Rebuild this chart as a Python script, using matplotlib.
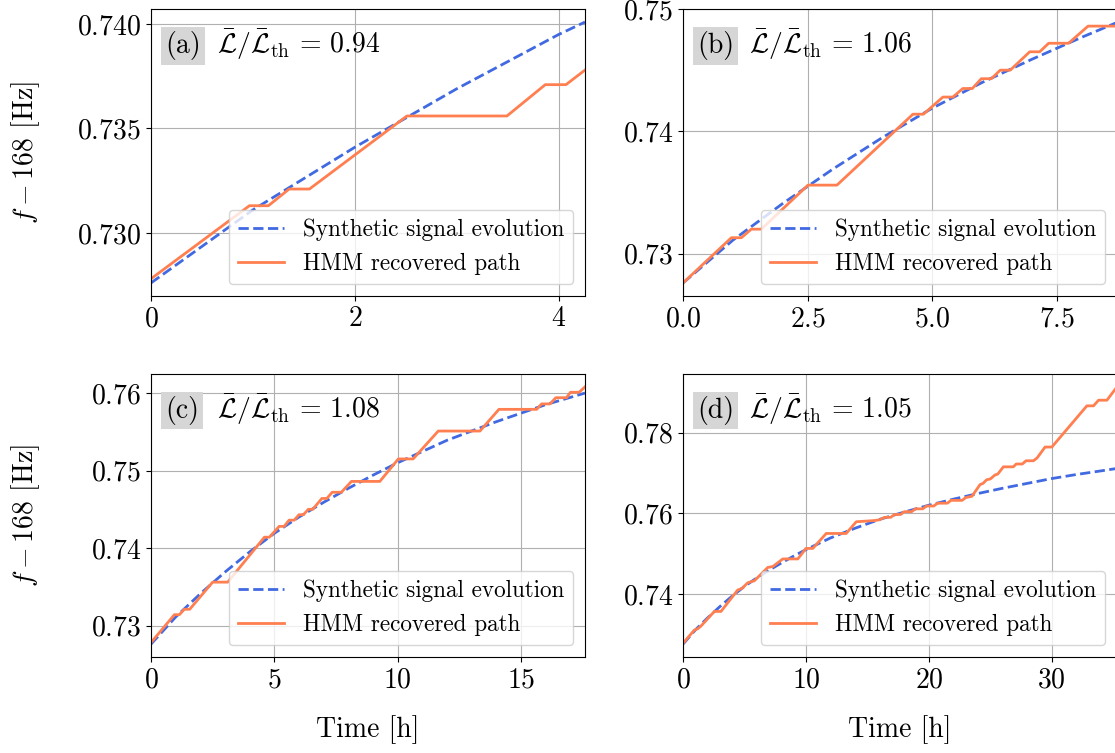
import numpy as np
import matplotlib
matplotlib.use('Agg')
import matplotlib.pyplot as plt

plt.rcParams['font.family'] = 'serif'
plt.rcParams['font.serif'] = ['cmr10']
plt.rcParams['mathtext.fontset'] = 'cm'
plt.rcParams['axes.unicode_minus'] = False
plt.rcParams['axes.formatter.use_mathtext'] = True
plt.rcParams['font.size'] = 20

# synthetic signal evolution, f - 168 Hz vs time [h]
t_sig_a = [0, 1, 2, 3, 4, 4.26]
f_sig_a = [0.7276, 0.7311, 0.7341, 0.7369, 0.7395, 0.7401]
t_sig_b = [0, 1, 2, 3, 4, 5, 6, 7, 8, 8.7]
f_sig_b = [0.7276, 0.7311, 0.7341, 0.7369, 0.7395, 0.7419, 0.7440, 0.7459, 0.7477, 0.7489]
t_sig_c = [0, 1, 2, 3, 4, 5, 6, 7, 8, 9, 10, 12, 14, 16, 17.6]
f_sig_c = [0.7276, 0.7311, 0.7341, 0.7369, 0.7395, 0.7419, 0.7440, 0.7459, 0.7477,
           0.7494, 0.7510, 0.7539, 0.7563, 0.7585, 0.7600]
t_sig_d = [0, 1, 2, 3, 4, 5, 6, 7, 8, 9, 10, 12, 14, 16, 18, 20, 22, 24, 26, 28, 30,
           32, 34, 35.3]
f_sig_d = [0.7276, 0.7311, 0.7341, 0.7369, 0.7395, 0.7419, 0.7440, 0.7459, 0.7477,
           0.7494, 0.7510, 0.7539, 0.7563, 0.7585, 0.7603, 0.7620, 0.7635, 0.7649,
           0.7662, 0.7674, 0.7686, 0.7696, 0.7705, 0.7711]

# HMM recovered paths
t_hmm_a = [0, 0.966, 1.152, 1.356, 1.555, 2.512, 3.494, 3.870, 4.073, 4.26]
f_hmm_a = [0.7278, 0.7313, 0.7313, 0.7321, 0.7321, 0.7356, 0.7356, 0.7371, 0.7371, 0.7378]
t_hmm_b = [0, 0.97, 1.17, 1.37, 1.57, 2.505, 3.086, 4.61, 4.82, 5.21, 5.41, 5.61, 5.80,
           5.98, 6.18, 6.36, 6.56, 6.95, 7.15, 7.33, 7.73, 8.12, 8.70]
f_hmm_b = [0.7276, 0.7313, 0.7313, 0.7320, 0.7320, 0.7356, 0.7356, 0.7414, 0.7414,
           0.7428, 0.7428, 0.7435, 0.7435, 0.7443, 0.7443, 0.7450, 0.7450, 0.7465,
           0.7465, 0.7472, 0.7472, 0.7486, 0.7486]
t_hmm_c = [0, 0.95, 1.15, 1.35, 1.57, 2.50, 3.11, 4.60, 4.80, 5.20, 5.40, 5.60, 5.81,
           6.00, 6.18, 6.38, 6.56, 6.93, 7.13, 7.35, 7.72, 8.13, 9.28, 10.03, 10.63,
           11.65, 13.34, 14.11, 15.64, 15.84, 16.18, 16.42, 16.85, 17.01, 17.36, 17.60]
f_hmm_c = [0.7278, 0.7314, 0.7314, 0.7321, 0.7321, 0.7356, 0.7356, 0.7414, 0.7414,
           0.7428, 0.7428, 0.7436, 0.7436, 0.7443, 0.7443, 0.7450, 0.7450, 0.7464,
           0.7464, 0.7472, 0.7472, 0.7486, 0.7486, 0.7515, 0.7515, 0.7551, 0.7551,
           0.7579, 0.7579, 0.7586, 0.7586, 0.7594, 0.7594, 0.7601, 0.7601, 0.7608]
t_hmm_d = [0, 0.93, 1.2, 1.47, 2.55, 3.09, 4.45, 4.8, 5.27, 5.81, 6.9, 7.3, 8.12, 9.34,
           10.0, 10.56, 11.65, 13.27, 14.09, 15.58, 16.0, 16.4, 16.9, 17.2, 17.7, 18.0,
           18.6, 18.9, 19.5, 19.8, 20.4, 20.7, 21.5, 21.8, 22.7, 23.0, 23.5, 24.16, 24.4,
           24.7, 25.0, 25.38, 25.6, 26.06, 26.87, 27.1, 27.6, 27.9, 28.5, 28.8, 29.45,
           30.0, 30.67, 32.85, 33.39, 33.8, 34.48, 35.3]
f_hmm_d = [0.7278, 0.7311, 0.7314, 0.7321, 0.7357, 0.7357, 0.7410, 0.7414, 0.7428,
           0.7433, 0.7466, 0.7468, 0.7487, 0.7487, 0.7513, 0.7513, 0.7550, 0.7550,
           0.7579, 0.7582, 0.7584, 0.7590, 0.7590, 0.7597, 0.7597, 0.7604, 0.7604,
           0.7611, 0.7611, 0.7618, 0.7618, 0.7625, 0.7625, 0.7632, 0.7632, 0.7639,
           0.7642, 0.7671, 0.7674, 0.7683, 0.7685, 0.7695, 0.7697, 0.7715, 0.7715,
           0.7722, 0.7722, 0.7730, 0.7730, 0.7737, 0.7764, 0.7764, 0.7788, 0.7866,
           0.7866, 0.7880, 0.7880, 0.7913]

labels = ['(a)', '(b)', '(c)', '(d)']
ratios = ['0.94', '1.06', '1.08', '1.05']
xticks = [[0, 2, 4], [0.0, 2.5, 5.0, 7.5], [0, 5, 10, 15], [0, 10, 20, 30]]
yticks = [[0.730, 0.735, 0.740], [0.73, 0.74, 0.75],
          [0.73, 0.74, 0.75, 0.76], [0.74, 0.76, 0.78]]

W, H = 1115, 753
fig = plt.figure(figsize=(W / 100, H / 100), dpi=100)
boxes = [(151, 9, 434, 287), (683, 9, 434, 287),
         (151, 374, 434, 283), (683, 374, 434, 283)]
axes = [fig.add_axes([x / W, 1 - (y + h) / H, w / W, h / H]) for x, y, w, h in boxes]

sig = [(t_sig_a, f_sig_a), (t_sig_b, f_sig_b), (t_sig_c, f_sig_c), (t_sig_d, f_sig_d)]
hmm = [(t_hmm_a, f_hmm_a), (t_hmm_b, f_hmm_b), (t_hmm_c, f_hmm_c), (t_hmm_d, f_hmm_d)]

for i, ax in enumerate(axes):
    ts, fs = sig[i]
    th, fh = hmm[i]
    ax.plot(ts, fs, '--', color='royalblue', lw=2, label='Synthetic signal evolution')
    ax.plot(th, fh, '-', color='coral', lw=2, label='HMM recovered path')
    ax.set_xlim(0, ts[-1])
    ax.set_xticks(xticks[i])
    ax.set_yticks(yticks[i])
    ax.grid(True)
    ax.legend(loc='lower right', fontsize='small')
    ax.text(0.032, 0.845, labels[i], transform=ax.transAxes, va='baseline',
            bbox=dict(boxstyle='square,pad=0.15', facecolor='#d6d6d6', edgecolor='none'))
    ax.text(0.152, 0.845,
            r'$\bar{\mathcal{L}}/\bar{\mathcal{L}}_{\mathrm{th}}\,=\,' + ratios[i] + '$',
            transform=ax.transAxes, va='baseline')
    if i % 2 == 0:
        ax.set_ylabel(r'$f - 168$ [Hz]')
        ax.yaxis.set_label_coords(-0.252, 0.5)
    if i >= 2:
        ax.set_xlabel('Time [h]', labelpad=16)

plt.savefig('out.png', dpi=100)
